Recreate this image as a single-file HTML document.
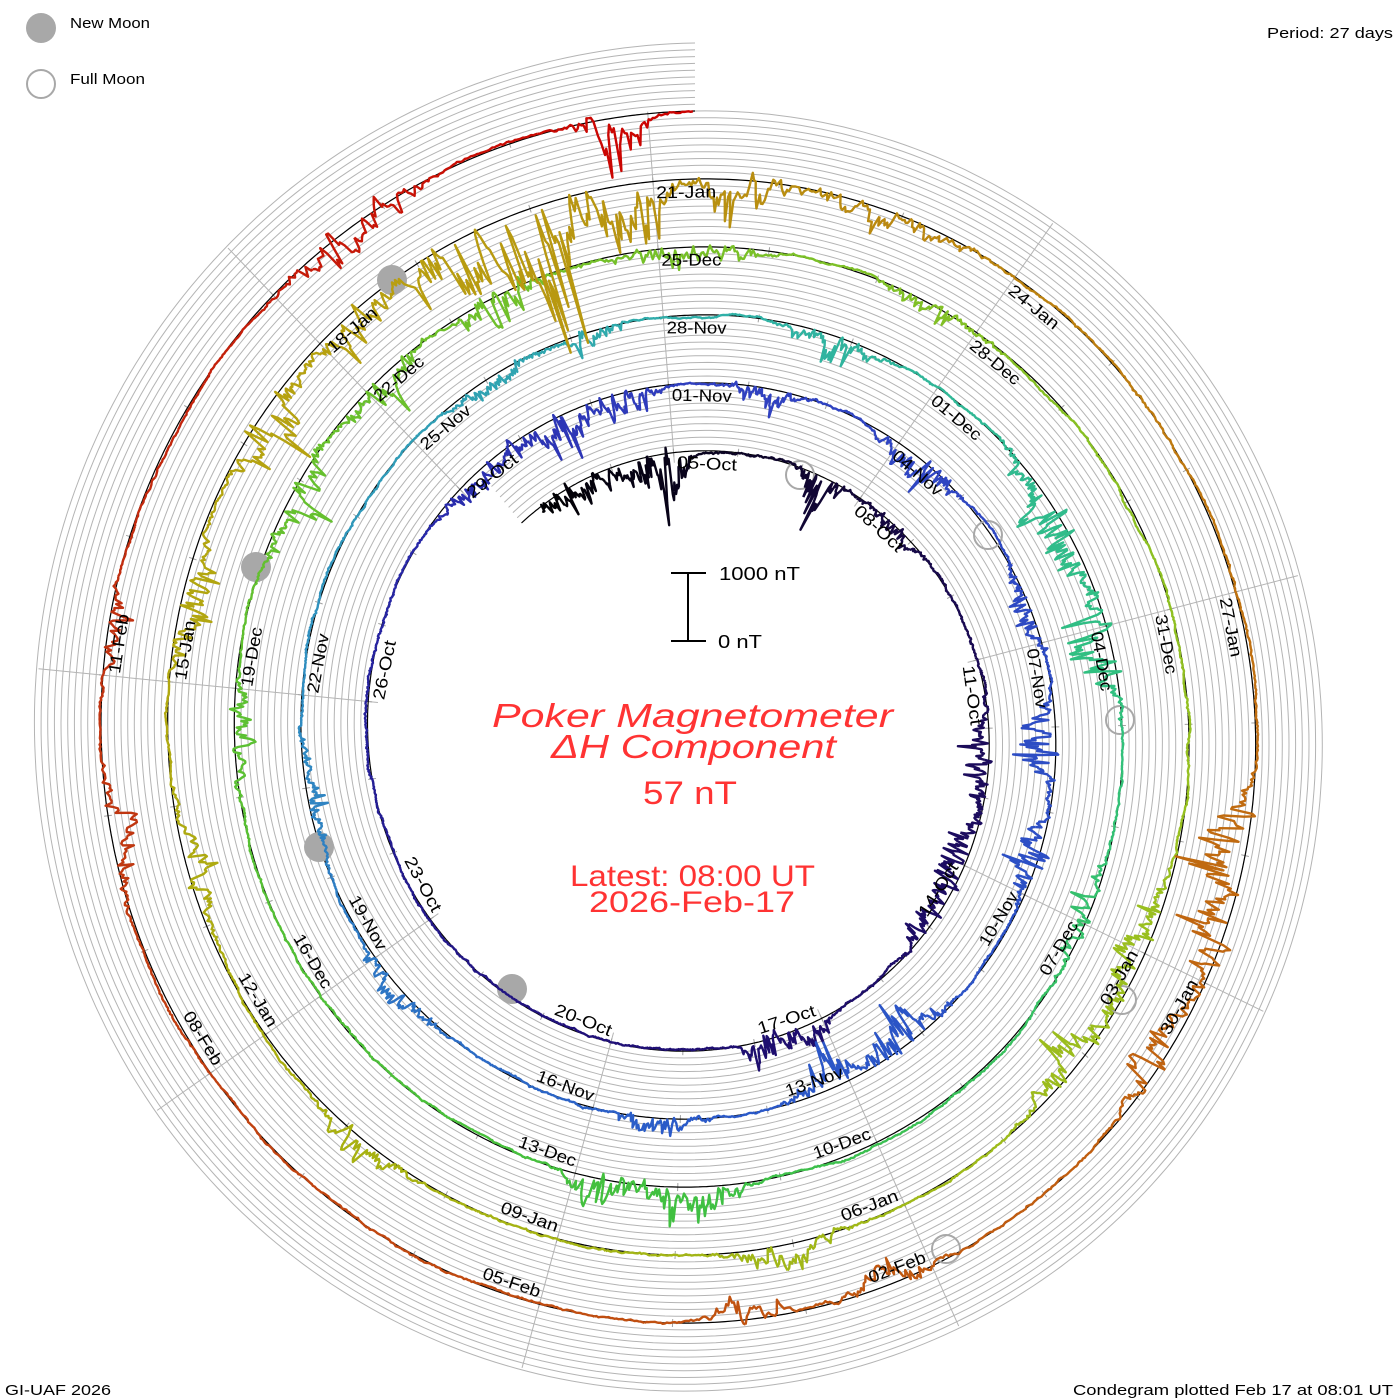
<!DOCTYPE html>
<html><head><meta charset="utf-8"><style>
html,body{margin:0;padding:0;background:#fff;}
svg{display:block;}
text{font-family:"Liberation Sans",sans-serif;}
</style></head><body>
<svg id="s" width="1400" height="1400" viewBox="0 0 1400 1400" xmlns="http://www.w3.org/2000/svg">
<g id="grid" fill="none" stroke="#b4b4b4" stroke-width="1"></g>
<g id="spokes" stroke="#b4b4b4" stroke-width="1"></g>
<g id="ticks" stroke="#a0a0a0" stroke-width="1"></g>
<path id="base" fill="none" stroke="#000" stroke-width="1.2"/>
<g id="moons">
<circle cx="41" cy="28" r="15" fill="#a8a8a8"/>
<circle cx="392" cy="280" r="15" fill="#a8a8a8"/>
<circle cx="256" cy="567" r="15" fill="#a8a8a8"/>
<circle cx="319" cy="847" r="15" fill="#a8a8a8"/>
<circle cx="512" cy="989" r="15" fill="#a8a8a8"/>
<g fill="none" stroke="#a8a8a8" stroke-width="2">
<circle cx="41" cy="84" r="14"/>
<circle cx="800" cy="475" r="14"/>
<circle cx="988" cy="535" r="14"/>
<circle cx="1120" cy="720" r="14"/>
<circle cx="1122" cy="1000" r="14"/>
<circle cx="946" cy="1249" r="14"/>
</g></g>
<g id="trace" fill="none" stroke-width="2.4" stroke-linejoin="round"></g>
<g id="labels" font-size="17" fill="#000" text-anchor="middle" dominant-baseline="central">
<text>05-Oct</text><text>08-Oct</text><text>11-Oct</text><text>14-Oct</text><text>17-Oct</text><text>20-Oct</text><text>23-Oct</text><text>26-Oct</text><text>29-Oct</text>
<text>01-Nov</text><text>04-Nov</text><text>07-Nov</text><text>10-Nov</text><text>13-Nov</text><text>16-Nov</text><text>19-Nov</text><text>22-Nov</text><text>25-Nov</text>
<text>28-Nov</text><text>01-Dec</text><text>04-Dec</text><text>07-Dec</text><text>10-Dec</text><text>13-Dec</text><text>16-Dec</text><text>19-Dec</text><text>22-Dec</text>
<text>25-Dec</text><text>28-Dec</text><text>31-Dec</text><text>03-Jan</text><text>06-Jan</text><text>09-Jan</text><text>12-Jan</text><text>15-Jan</text><text>18-Jan</text>
<text>21-Jan</text><text>24-Jan</text><text>27-Jan</text><text>30-Jan</text><text>02-Feb</text><text>05-Feb</text><text>08-Feb</text><text>11-Feb</text>
</g>
<g stroke="#000" stroke-width="2">
<line x1="688" y1="573" x2="688" y2="641"/>
<line x1="671" y1="573" x2="706" y2="573"/>
<line x1="671" y1="641" x2="706" y2="641"/>
</g>
<text x="719" y="580" font-size="18" textLength="81" lengthAdjust="spacingAndGlyphs">1000 nT</text>
<text x="718" y="648" font-size="18" textLength="44" lengthAdjust="spacingAndGlyphs">0 nT</text>
<g fill="#ff3333">
<text x="492" y="727" font-family="Liberation Serif,serif" font-style="italic" font-size="33" textLength="401" lengthAdjust="spacingAndGlyphs">Poker Magnetometer</text>
<text x="551" y="758" font-family="Liberation Serif,serif" font-style="italic" font-size="33" textLength="285" lengthAdjust="spacingAndGlyphs">ΔH Component</text>
<text x="643" y="804" font-size="32" textLength="94" lengthAdjust="spacingAndGlyphs">57 nT</text>
<text x="570" y="886" font-size="30" textLength="245" lengthAdjust="spacingAndGlyphs">Latest: 08:00 UT</text>
<text x="589" y="912" font-size="30" textLength="206" lengthAdjust="spacingAndGlyphs">2026-Feb-17</text>
</g>
<g fill="#000" font-size="15">
<text x="70" y="28" textLength="80" lengthAdjust="spacingAndGlyphs">New Moon</text>
<text x="70" y="84" textLength="75" lengthAdjust="spacingAndGlyphs">Full Moon</text>
<text x="1267" y="38" textLength="126" lengthAdjust="spacingAndGlyphs">Period: 27 days</text>
<text x="5" y="1395" textLength="106" lengthAdjust="spacingAndGlyphs">GI-UAF 2026</text>
<text x="1073" y="1395" textLength="320" lengthAdjust="spacingAndGlyphs">Condegram plotted Feb 17 at 08:01 UT</text>
</g>
</svg>
<script>
(function(){
var NS="http://www.w3.org/2000/svg";
var cx=695,cy=734,SX=0.98;
function B(p){return 283+68*p/360;}
function P(r,t){var a=t*Math.PI/180;return [cx+SX*r*Math.sin(a),cy-r*Math.cos(a)];}
function el(tag,attrs,parent){var e=document.createElementNS(NS,tag);for(var k in attrs)e.setAttribute(k,attrs[k]);parent.appendChild(e);return e;}
var g=document.getElementById('grid');
for(var k=1;k<=10;k++){
  var d="";
  for(var p=-40;p<=1800;p+=1){var q=P(B(p)+6.8*k,p);d+=(p==-40?"M":"L")+q[0].toFixed(1)+" "+q[1].toFixed(1);}
  el('path',{d:d},g);
}
var d="";for(var p=-40;p<=1800;p+=0.5){var q=P(B(p),p);d+=(p==-40?"M":"L")+q[0].toFixed(1)+" "+q[1].toFixed(1);}
document.getElementById('base').setAttribute('d',d);
var sg=document.getElementById('spokes');
for(var j=0;j<9;j++){
  var th=-4.44+40*j;var list=[];
  for(var n=-1;n<6;n++){var f=th+360*n;if(f>=-40&&f<=1800)list.push(f);}
  var pf=list[0],pl=list[list.length-1];
  var r1=B(pf)-10,r2=(pl>1760)?B(pl)+2:B(pl)+66;
  var a=P(r1,th),b=P(r2,th);
  el('line',{x1:a[0],y1:a[1],x2:b[0],y2:b[1]},sg);
}
var tg=document.getElementById('ticks');
for(var dd=-2;dd<=134;dd++){
  var f=-4.44+360/27*dd;if(f<-40||f>1800)continue;
  var a=P(B(f)-4,f),b=P(B(f)+4,f);
  el('line',{x1:a[0],y1:a[1],x2:b[0],y2:b[1]},tg);
}
var ls=document.getElementById('labels').getElementsByTagName('text');
for(var m=0;m<ls.length;m++){
  var f=-4.44+40*m;var r=B(f)-13;
  var tc=f+(33/r)*180/Math.PI;
  var rr=B(tc)-13;
  var q=P(rr,tc);
  var t=((tc%360)+360)%360;var rot=t<=90?t:(t<270?t-180:t-360);
  ls[m].setAttribute('x',q[0].toFixed(1));ls[m].setAttribute('y',q[1].toFixed(1));
  ls[m].setAttribute('transform','rotate('+rot.toFixed(1)+' '+q[0].toFixed(1)+' '+q[1].toFixed(1)+')');
  ls[m].setAttribute('textLength','60');ls[m].setAttribute('lengthAdjust','spacingAndGlyphs');
}
var seed=12345;
function rnd(){seed|=0;seed=seed+0x6D2B79F5|0;var t=Math.imul(seed^seed>>>15,1|seed);t=t+Math.imul(t^t>>>7,61|t)^t;return((t^t>>>14)>>>0)/4294967296;}
function N(){return (rnd()+rnd()+rnd()-1.5)*1.4;}
var ev=[[-28,8,25],[-12,6,35],[-5,3,60],[27,4,50],[45,6,15],[95,8,25],[115,8,30],[128,6,25],[160,4,-40],[168,3,-30],[320,8,25],[335,6,40],[347,5,40],
[372,5,30],[400,6,30],[430,6,25],[452,5,55],[470,5,40],[505,6,45],[518,5,50],[545,5,-28],[590,6,-25],[620,8,18],[690,6,18],[705,4,25],
[740,6,25],[780,8,45],[798,6,50],[835,6,25],[900,5,-45],[912,4,-40],[990,6,25],[1020,6,35],[1038,5,40],[1055,5,40],[1080,8,20],[1110,6,18],
[1195,6,35],[1210,6,40],[1250,5,-30],[1300,5,-30],[1335,6,25],[1365,6,35],[1385,5,50],[1400,5,40],[1412,5,70],[1422,5,150],[1432,4,110],[1445,4,50],[1460,8,25],[1542,5,60],
[1552,4,55],[1565,5,40],[1600,5,25],[1615,4,30],[1700,5,30],[1720,4,20],[1765,6,40],[1792,3,45]];
var stops=[[-40,[0,0,0]],[60,[26,10,80]],[200,[32,16,122]],[300,[40,40,168]],[360,[48,64,192]],[540,[42,90,200]],[640,[48,144,192]],
[720,[48,176,168]],[800,[48,192,128]],[900,[64,192,64]],[1000,[96,192,48]],[1080,[120,192,40]],[1180,[152,192,32]],[1300,[168,176,16]],
[1400,[184,160,16]],[1440,[184,144,16]],[1520,[192,112,16]],[1620,[192,80,16]],[1720,[192,48,16]],[1800,[204,0,0]]];
function col(p){for(var i=1;i<stops.length;i++){if(p<=stops[i][0]){var a=stops[i-1],b=stops[i];var t=(p-a[0])/(b[0]-a[0]);var c=[0,1,2].map(function(k){return Math.round(a[1][k]+(b[1][k]-a[1][k])*t);});return 'rgb('+c.join(',')+')';}}return 'rgb(204,0,0)';}
var tr=document.getElementById('trace');
var s=0,e=0,pts=[];
for(var p=-35;p<=1800;p+=0.2){
  s+=-0.03*s+N()*0.45;
  e+=-0.35*e+N()*0.9;
  var v=s+N()*0.4;
  for(var i=0;i<ev.length;i++){var z=(p-ev[i][0])/ev[i][1];if(Math.abs(z)<3){var env=Math.exp(-z*z);var A=ev[i][2];
     var sp=(rnd()<0.12)?rnd():0;
     v+=-A*env*(0.35+0.3*e+0.7*sp);}}
  var q=P(B(p)+v,p);pts.push([q[0],q[1],p]);
}
for(var i=0;i<pts.length-1;i+=25){
  var dd="";for(var j=i;j<=Math.min(i+25,pts.length-1);j++){dd+=(j==i?"M":"L")+pts[j][0].toFixed(1)+" "+pts[j][1].toFixed(1);}
  el('path',{d:dd,stroke:col(pts[i][2])},tr);
}
})();
</script>
</body></html>
